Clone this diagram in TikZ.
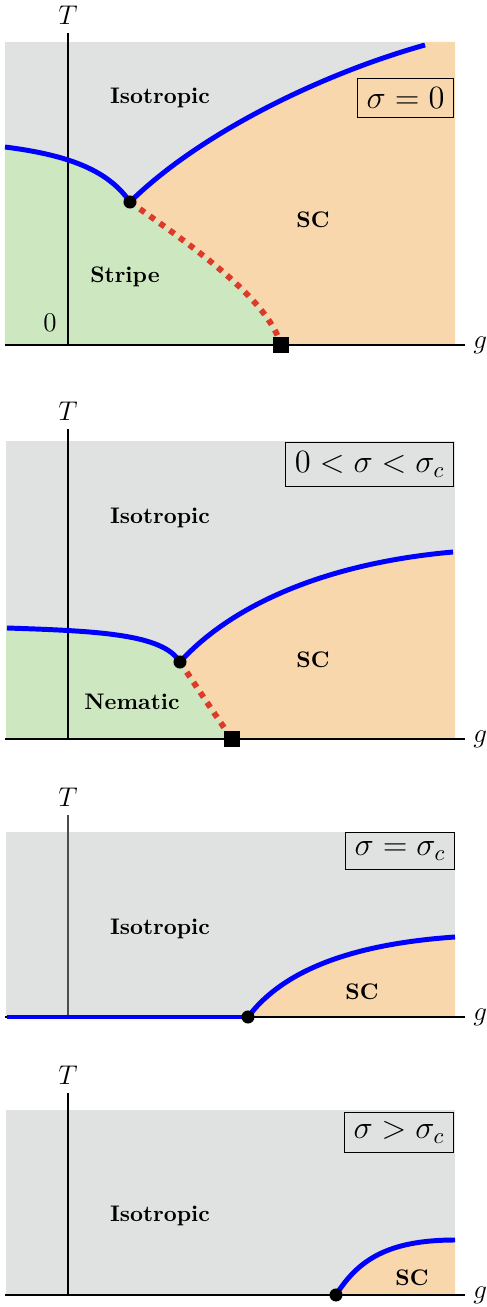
\documentclass[tikz,border=0pt]{standalone}
\usepackage{amsmath,amssymb}
\usepackage{tikz}

\definecolor{isogray}{RGB}{224,225,225}
\definecolor{ordgreen}{RGB}{205,231,192}
\definecolor{scorange}{RGB}{249,215,172}
\definecolor{dotred}{RGB}{221,58,42}

\tikzset{
  axis/.style={line width=0.8pt},
  boundary/.style={blue, line width=2.2pt},
  firstorder/.style={dotred, line width=2.6pt, dash pattern=on 2.6pt off 2.8pt},
  critdot/.style={circle, fill=black, inner sep=0pt, minimum size=5.8pt},
  qcpsq/.style={rectangle, fill=black, inner sep=0pt, minimum size=7.5pt},
  phase/.style={font=\bfseries},
  sigbox/.style={draw, line width=0.5pt, inner sep=4pt, font=\Large, anchor=north east},
  axlabel/.style={font=\large},
}

\begin{document}
\begin{tikzpicture}[x=1.56cm,y=1.56cm]
  \useasboundingbox (-0.68,-9.62) rectangle (4.19,3.45);

  % sigma = 0
  \begin{scope}
    \coordinate (tri1) at (0.62,1.43);
    \coordinate (qcp1) at (2.13,0);
    \fill[isogray] (-0.63,0) rectangle (3.87,3.03);
    \fill[scorange] (tri1) .. controls (1.3,2.1) and (2.5,2.7) .. (3.57,3.0) -- (3.57,3.03) -- (3.87,3.03) -- (3.87,0) -- (qcp1) .. controls (2.0,0.45) and (1.3,0.95) .. (tri1) -- cycle;
    \fill[ordgreen] (-0.63,0) -- (-0.63,1.98) .. controls (0.0,1.9) and (0.4,1.75) .. (tri1) .. controls (1.3,0.95) and (2.0,0.45) .. (qcp1) -- cycle;
    \draw[axis] (-0.63,0) -- (3.97,0) node[right, axlabel] (g1) {$g$};
    \draw[axis] (0,0) -- (0,3.12) node[above, axlabel] (T1) {$T$};
    \draw[boundary] (-0.63,1.98) .. controls (0.0,1.9) and (0.4,1.75) .. (tri1);
    \draw[boundary] (tri1) .. controls (1.3,2.1) and (2.5,2.7) .. (3.57,3.0);
    \draw[firstorder] (tri1) .. controls (1.3,0.95) and (2.0,0.45) .. (qcp1);
    \node[critdot] (tp1) at (tri1) {};
    \node[qcpsq] (sq1) at (qcp1) {};
    \node[phase] (iso1) at (0.92,2.47) {Isotropic};
    \node[phase] (stripe1) at (0.57,0.68) {Stripe};
    \node[phase] (sc1) at (2.45,1.25) {SC};
    \node[axlabel] (zero1) at (-0.18,0.22) {$0$};
    \node[sigbox] (box1) at (3.86,2.67) {$\sigma = 0$};
  \end{scope}

  % 0 < sigma < sigma_c
  \begin{scope}[shift={(0,-3.94)}]
    \coordinate (tri2) at (1.12,0.77);
    \coordinate (qcp2) at (1.64,0);
    \fill[isogray] (-0.62,0) rectangle (3.87,2.98);
    \fill[scorange] (tri2) .. controls (1.6,1.3) and (2.5,1.75) .. (3.85,1.87) -- (3.87,1.87) -- (3.87,0) -- (qcp2) .. controls (1.5,0.2) and (1.3,0.5) .. (tri2) -- cycle;
    \fill[ordgreen] (-0.62,0) -- (-0.62,1.11) .. controls (0.3,1.08) and (0.95,1.05) .. (tri2) .. controls (1.3,0.5) and (1.5,0.2) .. (qcp2) -- cycle;
    \draw[axis] (-0.63,0) -- (3.97,0) node[right, axlabel] (g2) {$g$};
    \draw[axis] (0,0) -- (0,3.10) node[above, axlabel] (T2) {$T$};
    \draw[boundary] (-0.61,1.11) .. controls (0.3,1.08) and (0.95,1.05) .. (tri2);
    \draw[boundary] (tri2) .. controls (1.6,1.3) and (2.5,1.75) .. (3.85,1.87);
    \draw[firstorder] (tri2) .. controls (1.3,0.5) and (1.5,0.2) .. (qcp2);
    \node[critdot] (tp2) at (tri2) {};
    \node[qcpsq] (sq2) at (qcp2) {};
    \node[phase] (iso2) at (0.92,2.21) {Isotropic};
    \node[phase] (nem2) at (0.64,0.37) {Nematic};
    \node[phase] (sc2) at (2.45,0.79) {SC};
    \node[sigbox] (box2) at (3.86,2.97) {$0 < \sigma < \sigma_c$};
  \end{scope}

  % sigma = sigma_c
  \begin{scope}[shift={(0,-6.72)}]
    \coordinate (crit3) at (1.80,0);
    \fill[isogray] (-0.62,0) rectangle (3.87,1.85);
    \fill[scorange] (crit3) .. controls (2.1,0.4) and (2.7,0.72) .. (3.87,0.80) -- (3.87,0) -- cycle;
    \draw[axis] (-0.63,0) -- (3.97,0) node[right, axlabel] (g3) {$g$};
    \draw[axis, black!70] (0,0) -- (0,2.02) node[above, axlabel, black] (T3) {$T$};
    \draw[boundary] (-0.61,0) -- (crit3);
    \draw[boundary] (crit3) .. controls (2.1,0.4) and (2.7,0.72) .. (3.87,0.80);
    \node[critdot] (cp3) at (crit3) {};
    \node[phase] (iso3) at (0.92,0.88) {Isotropic};
    \node[phase] (sc3) at (2.94,0.25) {SC};
    \node[sigbox] (box3) at (3.87,1.85) {$\sigma = \sigma_c$};
  \end{scope}

  % sigma > sigma_c
  \begin{scope}[shift={(0,-9.50)}]
    \coordinate (crit4) at (2.68,0);
    \fill[isogray] (-0.62,0) rectangle (3.87,1.85);
    \fill[scorange] (crit4) .. controls (2.9,0.35) and (3.2,0.55) .. (3.87,0.55) -- (3.87,0) -- cycle;
    \draw[axis] (-0.63,0) -- (3.97,0) node[right, axlabel] (g4) {$g$};
    \draw[axis] (0,0) -- (0,2.02) node[above, axlabel] (T4) {$T$};
    \draw[boundary] (crit4) .. controls (2.9,0.35) and (3.2,0.55) .. (3.87,0.55);
    \node[critdot] (cp4) at (crit4) {};
    \node[phase] (iso4) at (0.92,0.79) {Isotropic};
    \node[phase] (sc4) at (3.44,0.17) {SC};
    \node[sigbox] (box4) at (3.86,1.83) {$\sigma > \sigma_c$};
  \end{scope}
\end{tikzpicture}
\end{document}
